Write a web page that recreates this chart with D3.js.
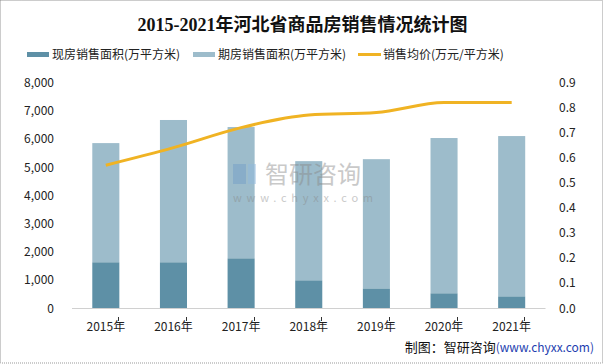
<!DOCTYPE html>
<html><head><meta charset="utf-8">
<script src="https://cdn.jsdelivr.net/npm/d3@7/dist/d3.min.js"></script>
<style>
html,body{margin:0;padding:0;background:#fff;}
svg{display:block;}
text{font-family:"Microsoft YaHei","Noto Sans CJK SC",sans-serif;}
</style></head>
<body>
<svg id="chart" width="605" height="364"></svg>
<script>
const categories = ["2015年","2016年","2017年","2018年","2019年","2020年","2021年"];
const existingArea = [1620, 1620, 1760, 980, 690, 520, 410];
const totalArea = [5850, 6670, 6420, 5210, 5280, 6030, 6100];
const futureArea = totalArea.map((t,i)=>t-existingArea[i]);
const avgPrice = [0.57, 0.64, 0.72, 0.77, 0.78, 0.82, 0.82];
const leftTicks = [0,1000,2000,3000,4000,5000,6000,7000,8000];
const rightTicks = [0,0.1,0.2,0.3,0.4,0.5,0.6,0.7,0.8,0.9];
const seriesNames = ["现房销售面积(万平方米)","期房销售面积(万平方米)","销售均价(万元/平方米)"];

const colDark = "#5E90A6", colLight = "#9DBCCB", colLine = "#F0B323";
const svg = d3.select("#chart");
const W = 605, H = 364;
const m = {left:72, right:59.5, top:82.5, bottom:56};

// border
svg.append("rect").attr("x",0.5).attr("y",0.5).attr("width",W-3).attr("height",H-1.5)
  .attr("fill","none").attr("stroke","#999").attr("stroke-dasharray","1,1");

const x = d3.scaleBand().domain(categories).range([m.left, W-m.right]).paddingInner(0.6).paddingOuter(0.3);
const yL = d3.scaleLinear().domain([0,8000]).range([308, 82.5]);
const yR = d3.scaleLinear().domain([0,0.9]).range([308, 82.5]);

// title
svg.append("text").attr("x",W/2).attr("y",31).attr("text-anchor","middle")
  .style("font-family",'"Liberation Serif","Times New Roman","Noto Sans CJK SC",serif')
  .style("font-weight","bold").style("font-size","18px").attr("fill","#111")
  .text("2015-2021年河北省商品房销售情况统计图");

// legend
const leg = [
  {x:27, type:"bar", color:colDark, name:seriesNames[0]},
  {x:193, type:"bar", color:colLight, name:seriesNames[1]},
  {x:358, type:"line", color:colLine, name:seriesNames[2]}
];
leg.forEach(l=>{
  if(l.type==="bar") svg.append("rect").attr("x",l.x).attr("y",52).attr("width",22).attr("height",5).attr("fill",l.color);
  else svg.append("line").attr("x1",l.x).attr("x2",l.x+23).attr("y1",54.5).attr("y2",54.5).attr("stroke",l.color).attr("stroke-width",3);
  svg.append("text").attr("x",l.x+25).attr("y",59).style("font-size","12px").attr("fill","#222").text(l.name);
});

// bars
const g = svg.append("g");
categories.forEach((c,i)=>{
  g.append("rect").attr("x",x(c)).attr("width",x.bandwidth())
    .attr("y",yL(totalArea[i])).attr("height",yL(existingArea[i])-yL(totalArea[i])).attr("fill",colLight);
  g.append("rect").attr("x",x(c)).attr("width",x.bandwidth())
    .attr("y",yL(existingArea[i])).attr("height",yL(0)-yL(existingArea[i])).attr("fill",colDark);
});

// watermark
const wm = svg.append("g").attr("opacity",0.45);
wm.append("rect").attr("x",233).attr("y",164).attr("width",13).attr("height",20).attr("fill","#6f9cc8");
wm.append("rect").attr("x",248).attr("y",164).attr("width",8).attr("height",20).attr("fill","#8fb8e0");
wm.append("text").attr("x",265).attr("y",183).style("font-size","24px").attr("fill","#888").text("智研咨询");
wm.append("text").attr("x",233).attr("y",202).attr("textLength",140).style("font-size","11px").attr("fill","#888").text("www.chyxx.com");

// x axis line
svg.append("line").attr("x1",m.left).attr("x2",W-m.right).attr("y1",308.5).attr("y2",308.5).attr("stroke","#d0d0d0").attr("stroke-width",1.2);
// small ticks
categories.forEach(c=>{
  const tx = Math.round(x(c)+x.bandwidth())-0.5;
  svg.append("line").attr("x1",tx).attr("x2",tx).attr("y1",317).attr("y2",321).attr("stroke","#333");
});

// x labels
categories.forEach(c=>{
  svg.append("text").attr("x",x(c)+x.bandwidth()/2).attr("y",331).attr("text-anchor","middle")
    .style("font-size","12px").attr("fill","#222").text(c);
});

// left axis labels
const fmt = d3.format(",");
leftTicks.forEach(t=>{
  svg.append("text").attr("x",54).attr("y",yL(t)+4.5).attr("text-anchor","end")
    .style("font-size","12px").attr("fill","#222").text(fmt(t));
});
rightTicks.forEach(t=>{
  svg.append("text").attr("x",559).attr("y",yR(t)+4.5).attr("text-anchor","start")
    .style("font-size","12px").attr("fill","#222").text(t.toFixed(1));
});

// line
const line = d3.line().x((d,i)=>x(categories[i])+x.bandwidth()/2).y(d=>yR(d)).curve(d3.curveMonotoneX);
svg.append("path").datum(avgPrice).attr("d",line).attr("fill","none").attr("stroke",colLine).attr("stroke-width",3);

// footer
const ft = svg.append("text").attr("x",594).attr("y",352).attr("text-anchor","end").style("font-size","13px");
ft.append("tspan").attr("fill","#111").text("制图：智研咨询");
ft.append("tspan").attr("fill","#1f3fb0").style("font-size","12px").text("(www.chyxx.com)");
</script>
</body></html>
